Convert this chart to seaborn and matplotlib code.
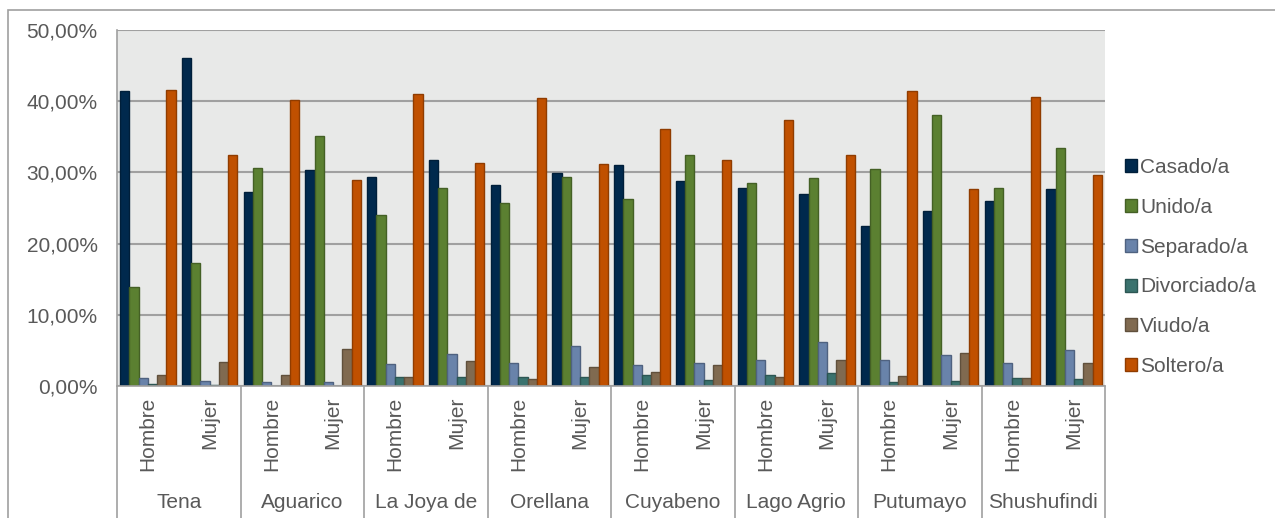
import pandas as pd
import numpy as np
import matplotlib.pyplot as plt
import matplotlib.colors as mcolors
from matplotlib.patches import Rectangle
from matplotlib.lines import Line2D
import seaborn as sns

# ==========================================
# Datos (porcentajes)
# ==========================================
cantones = ["Tena", "Aguarico", "La Joya de", "Orellana", "Cuyabeno",
            "Lago Agrio", "Putumayo", "Shushufindi"]
sexos = ["Hombre", "Mujer"]
estados = ["Casado/a", "Unido/a", "Separado/a", "Divorciado/a", "Viudo/a", "Soltero/a"]

# orden: Tena H, Tena M, Aguarico H, Aguarico M, ...
casado = [41.5, 46.0, 27.2, 30.3, 29.4, 31.8, 28.3, 29.9,
          31.1, 28.8, 27.8, 26.9, 22.5, 24.6, 26.0, 27.6]
unido = [13.9, 17.3, 30.6, 35.1, 24.0, 27.8, 25.7, 29.3,
         26.3, 32.5, 28.5, 29.2, 30.5, 38.0, 27.8, 33.4]
separado = [1.1, 0.7, 0.5, 0.6, 3.1, 4.5, 3.3, 5.6,
            3.0, 3.3, 3.7, 6.2, 3.6, 4.3, 3.2, 5.1]
divorciado = [0.3, 0.2, 0.05, 0.05, 1.2, 1.2, 1.2, 1.2,
              1.5, 0.9, 1.5, 1.8, 0.6, 0.7, 1.1, 1.0]
viudo = [1.6, 3.4, 1.5, 5.2, 1.3, 3.5, 1.0, 2.7,
         2.0, 2.9, 1.3, 3.6, 1.4, 4.7, 1.1, 3.3]
soltero = [41.6, 32.4, 40.1, 28.9, 41.0, 31.3, 40.4, 31.2,
           36.1, 31.7, 37.3, 32.4, 41.5, 27.7, 40.6, 29.7]

colores = ["#00294D", "#5B8031", "#6983AA", "#3A726E", "#806A50", "#C05000"]

grupos = [f"{c}|{s}" for c in cantones for s in sexos]
series = [casado, unido, separado, divorciado, viudo, soltero]

df = pd.DataFrame({
    "grupo": np.repeat([grupos], len(estados), axis=0).ravel(),
    "Estado": np.repeat(estados, len(grupos)),
    "valor": np.concatenate(series),
})

# ==========================================
# Figura
# ==========================================
sns.set_theme(style="white")
plt.rcParams['font.family'] = ['Liberation Sans', 'DejaVu Sans']
txt_color = "#595959"
fs = 15

fig = plt.figure(figsize=(12.75, 5.18), dpi=100)
ax = fig.add_axes([117 / 1275, 1 - 386 / 518, (1105 - 117) / 1275, (386 - 30) / 518])
ax.set_facecolor("#E8E9E8")

sns.barplot(data=df, x="grupo", y="valor", hue="Estado", order=grupos,
            hue_order=estados, palette=colores, width=0.9, saturation=1,
            linewidth=1, ax=ax, legend=False)

# bordes más oscuros
for p in ax.patches:
    fc = np.array(mcolors.to_rgb(p.get_facecolor()))
    p.set_edgecolor(fc * 0.75)

ax.set_ylim(0, 50)
ax.set_xlim(-0.5, len(grupos) - 0.5)
ax.set_yticks(np.arange(0, 51, 10))
ax.set_yticklabels([f"{v:.2f}%".replace(".", ",") for v in np.arange(0, 51, 10)],
                   fontsize=fs, color=txt_color)
ax.yaxis.grid(True, color="#A0A0A0", linewidth=1.5)
ax.set_axisbelow(True)
ax.tick_params(axis="y", length=0, pad=14)
ax.set_xlabel("")
ax.set_ylabel("")

for s in ["top", "right"]:
    ax.spines[s].set_visible(False)
for s in ["left", "bottom"]:
    ax.spines[s].set_color("#A0A0A0")
    ax.spines[s].set_linewidth(1.2)

# etiquetas Hombre / Mujer
ax.set_xticks(range(len(grupos)))
ax.set_xticklabels([g.split("|")[1] for g in grupos], rotation=90,
                   fontsize=fs, color=txt_color, va="top")
ax.tick_params(axis="x", length=0, pad=8)

# etiquetas de cantón y separadores
trans = ax.get_xaxis_transform()
y_bot = -(518 - 386) / (386 - 30)
for i, c in enumerate(cantones):
    ax.text(2 * i + 0.5, -117 / 356, c, transform=trans, ha="center",
            va="center", fontsize=fs, color=txt_color)
for k in range(len(cantones) + 1):
    ax.add_line(Line2D([2 * k - 0.5, 2 * k - 0.5], [0, y_bot], transform=trans,
                       color="#A0A0A0", linewidth=1.2, clip_on=False))

# borde exterior del gráfico
fig.add_artist(Rectangle((8 / 1275, -0.1), 1.2, (518 - 10) / 518 + 0.1,
                         transform=fig.transFigure, fill=False,
                         edgecolor="#A0A0A0", linewidth=1.2))

# leyenda
handles = [Rectangle((0, 0), 1, 1, facecolor=c,
                     edgecolor=np.array(mcolors.to_rgb(c)) * 0.75)
           for c in colores]
fig.legend(handles, estados, loc="center left",
           bbox_to_anchor=(1125 / 1275, 1 - 267 / 518), frameon=False,
           fontsize=fs, labelcolor=txt_color, handlelength=0.58,
           handleheight=0.58, handletextpad=0.15, labelspacing=1.0,
           borderpad=0, borderaxespad=0)

plt.savefig("out.png", dpi=100)
